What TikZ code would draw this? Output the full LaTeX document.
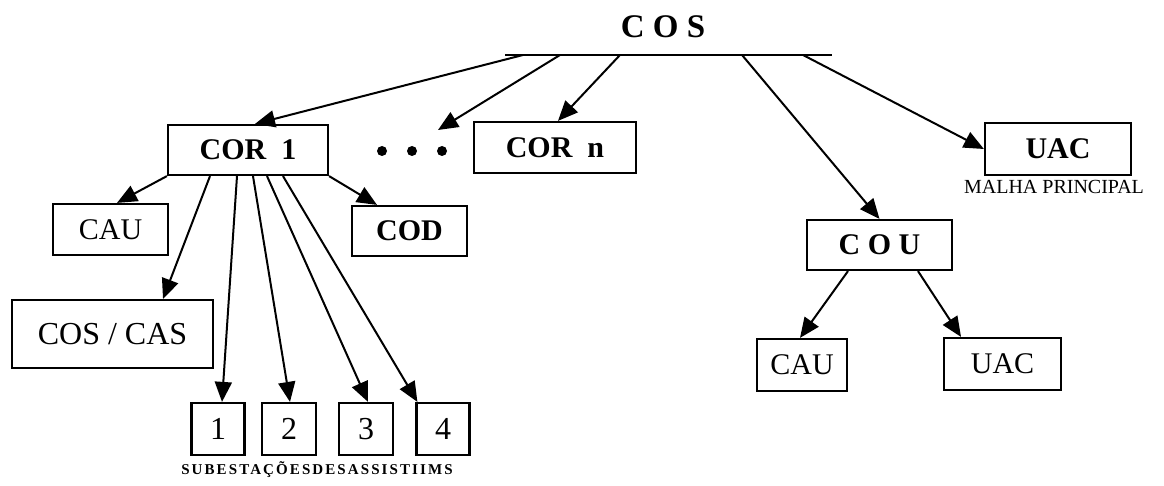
\documentclass[tikz,border=0pt]{standalone}
\usepackage{fontspec}
\setmainfont{Liberation Serif}
\usetikzlibrary{arrows.meta}
\tikzset{
  box/.style={draw, line width=2.2pt, inner sep=0pt, font=\fontsize{30}{36}\selectfont},
  bbox/.style={box, font=\fontsize{30}{36}\selectfont\bfseries},
  numbox/.style={box, font=\fontsize{32}{38}\selectfont},
  arr/.style={line width=2pt, -{Triangle[length=20pt,width=17pt]}},
  lnk/.style={line width=2.2pt},
  dot/.style={circle, fill, inner sep=0pt, minimum size=10pt},
}
\begin{document}
\begin{tikzpicture}[x=1pt,y=-1pt]
\useasboundingbox (0,0) rectangle (1164,486);

% top
\node[font=\fontsize{33}{38}\selectfont\bfseries] (cos) at (663,27) {C O S};
\coordinate (barL) at (505,55);
\coordinate (barR) at (832,55);
\coordinate (b1) at (523,55);
\coordinate (b2) at (560,55);
\coordinate (b3) at (620,55);
\coordinate (b4) at (742,55);
\coordinate (b5) at (803,55);
\draw[lnk] (barL) -- (barR);

% second level
\node[bbox, minimum width=160pt, minimum height=50pt] (cor1) at (248,150) {COR\ \ 1};
\node[dot] (d1) at (382,151) {};
\node[dot] (d2) at (412,151) {};
\node[dot] (d3) at (442,151) {};
\coordinate (dtip) at (438,130);
\node[bbox, minimum width=162pt, minimum height=51pt] (corn) at (555,147.5) {COR\ \ n};
\node[bbox, minimum width=146pt, minimum height=52pt] (uac1) at (1058,149) {UAC};
\node[font=\fontsize{20}{23}\selectfont] (malha) at (1054,187) {MALHA PRINCIPAL};

% COR 1 children
\node[box, minimum width=115pt, minimum height=51pt] (cau1) at (110.5,229.5) {CAU};
\node[bbox, minimum width=115pt, minimum height=50pt] (cod) at (409.5,231) {COD};
\node[box, font=\fontsize{32}{38}\selectfont, minimum width=201pt, minimum height=68pt] (coscas) at (112.5,334) {COS / CAS};
\node[numbox, minimum width=53pt, minimum height=52pt] (s1) at (218,429) {1};
\node[numbox, minimum width=54pt, minimum height=52pt] (s2) at (289,429) {2};
\node[numbox, minimum width=54pt, minimum height=52pt] (s3) at (366,429) {3};
\node[numbox, minimum width=53pt, minimum height=52pt] (s4) at (443,429) {4};
\node[font=\fontsize{15}{17}\selectfont\bfseries\addfontfeature{LetterSpace=14}] (sub) at (317,470) {SUBESTAÇÕESDESASSISTIIMS};

% COU and children
\node[bbox, minimum width=145pt, minimum height=50pt] (cou) at (879.5,245) {C O U};
\node[box, minimum width=90pt, minimum height=52pt] (cau2) at (802,365) {CAU};
\node[box, minimum width=117pt, minimum height=52pt] (uac2) at (1002.5,364) {UAC};

% connectors from bar
\draw[arr] (b1) -- ([xshift=7pt]cor1.north);
\draw[arr] (b2) -- (dtip);
\draw[arr] (b3) -- ([xshift=3pt]corn.north);
\draw[arr] (b4) -- (cou.north);
\draw[arr] (b5) -- (uac1.west);

% COR 1 connectors
\draw[arr] (cor1.south west) -- ([xshift=6.5pt]cau1.north);
\draw[arr] ([xshift=-38pt]cor1.south) -- ([xshift=50.5pt]coscas.north);
\draw[arr] ([xshift=-11pt]cor1.south) -- ([xshift=4pt]s1.north);
\draw[arr] ([xshift=5pt]cor1.south) -- ([xshift=1pt]s2.north);
\draw[arr] ([xshift=19pt]cor1.south) -- ([xshift=2pt]s3.north);
\draw[arr] ([xshift=35pt]cor1.south) -- ([xshift=2pt]s4.north west);
\draw[arr] (cor1.south east) -- ([xshift=-32.5pt]cod.north);

% COU connectors
\draw[arr] ([xshift=-31.5pt]cou.south) -- ([xshift=-2pt]cau2.north);
\draw[arr] ([xshift=38.5pt]cou.south) -- ([xshift=-41.5pt]uac2.north);
\end{tikzpicture}
\end{document}
